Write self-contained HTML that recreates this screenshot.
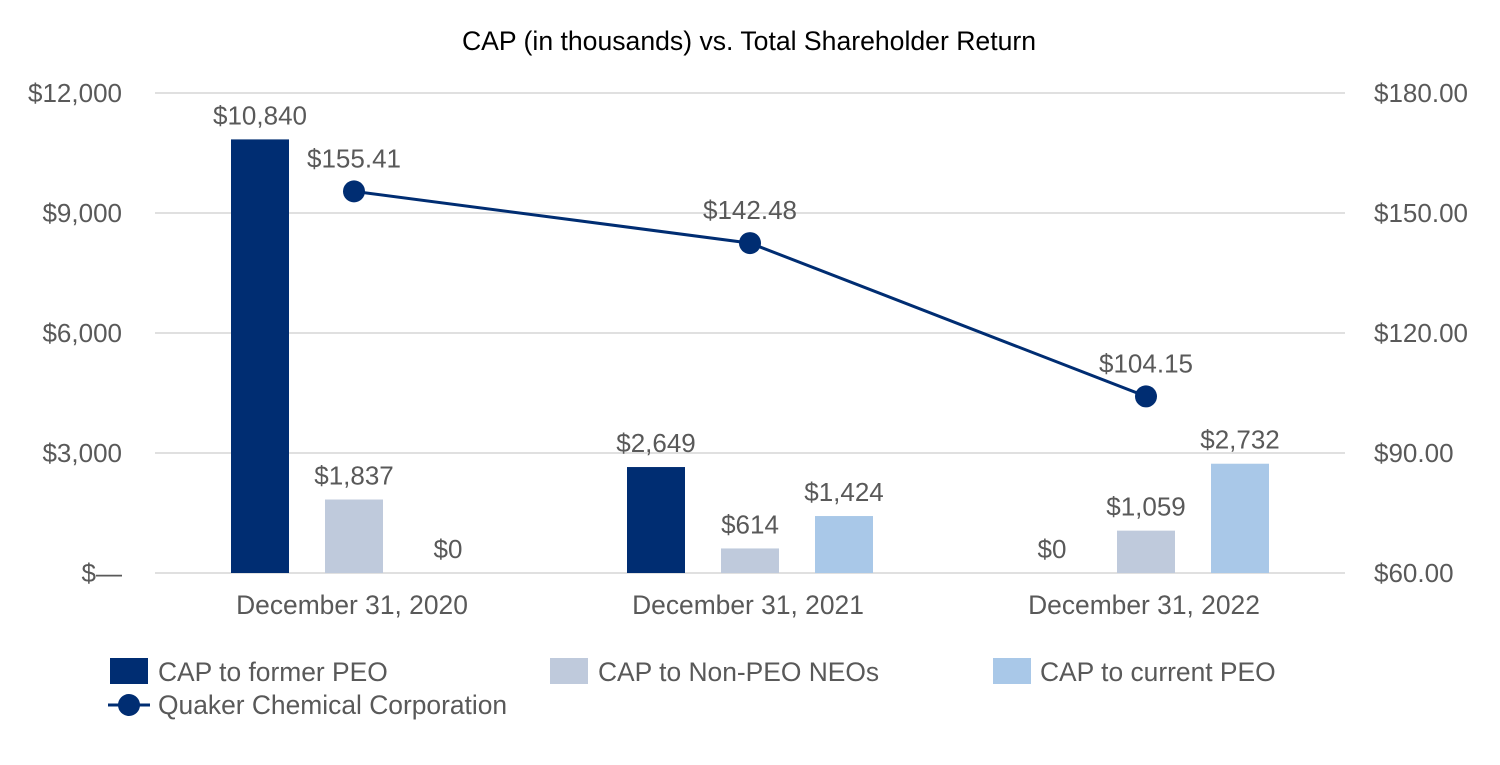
<!DOCTYPE html>
<html><head><meta charset="utf-8">
<style>
body{margin:0;background:#fff;}
svg text{font-family:"Liberation Sans",Arial,sans-serif;fill:#595959;}
</style></head>
<body>
<svg id="chart" width="1500" height="760" xmlns="http://www.w3.org/2000/svg">
<rect width="1500" height="760" fill="#fff"/>
<text x="749" y="50" text-anchor="middle" font-size="26.6" style="fill:#000">CAP (in thousands) vs. Total Shareholder Return</text>
<g id="grid"></g><g id="bars"></g><g id="line"></g><g id="axes"></g>
<g font-size="26.4">
 <rect x="110" y="658" width="38" height="26" fill="#002D72"/>
 <text x="158" y="681">CAP to former PEO</text>
 <rect x="550" y="658" width="38" height="26" fill="#BFCADC"/>
 <text x="598" y="681">CAP to Non-PEO NEOs</text>
 <rect x="993" y="658" width="38" height="26" fill="#A9C8E8"/>
 <text x="1040" y="681">CAP to current PEO</text>
 <line x1="108" y1="705" x2="150" y2="705" stroke="#002D72" stroke-width="3"/>
 <circle cx="129" cy="705" r="11" fill="#002D72"/>
 <text x="158" y="714">Quaker Chemical Corporation</text>
</g>
</svg>
<script>
const categories=["December 31, 2020","December 31, 2021","December 31, 2022"];
const formerPEO=[10840,2649,0];
const nonPEO=[1837,614,1059];
const currentPEO=[0,1424,2732];
const tsr=[155.41,142.48,104.15];
const leftTicks=[0,3000,6000,9000,12000];
const leftTickLabels=["$—","$3,000","$6,000","$9,000","$12,000"];
const rightTicks=[60,90,120,150,180];
const rightTickLabels=["$60.00","$90.00","$120.00","$150.00","$180.00"];

const NS="http://www.w3.org/2000/svg";
const yL=v=>573-v*(480/12000);
const yR=v=>573-(v-60)*4;
const xC=i=>354+i*396;
function mk(p,tag,a,txt){const e=document.createElementNS(NS,tag);for(const k in a)e.setAttribute(k,a[k]);if(txt!==undefined)e.textContent=txt;document.getElementById(p).appendChild(e);return e;}
const fmt=v=>"$"+v.toLocaleString("en-US");

leftTicks.forEach((t,i)=>{
 const g=mk("grid","line",{x1:155,x2:1345,y1:yL(t),y2:yL(t),stroke:"#E0E0E0","stroke-width":2});
 
 
 const l=mk("axes","text",{x:122,y:yL(t)+9,"text-anchor":"end","font-size":26},leftTickLabels[i]);
 
 
});
rightTicks.forEach((t,i)=>{
 const l=mk("axes","text",{x:1374,y:yR(t)+9,"font-size":26},rightTickLabels[i]);
 
 
});
categories.forEach((c,i)=>{
 const l=mk("axes","text",{x:xC(i)-2,y:614,"text-anchor":"middle","font-size":26.4},c);
 
 
});
const series=[[formerPEO,"#002D72",-94,"former-peo"],[nonPEO,"#BFCADC",0,"non-peo"],[currentPEO,"#A9C8E8",94,"current-peo"]];
series.forEach(([vals,col,off,nm])=>{
 vals.forEach((v,i)=>{
  const cx=xC(i)+off,y=yL(v);
  const r=mk("bars","rect",{x:cx-29,y:y,width:58,height:573-y,fill:col});
  
  
  const t=mk("bars","text",{x:cx,y:y-15,"text-anchor":"middle","font-size":26},fmt(v));
  
  
 });
});
const pts=tsr.map((v,i)=>xC(i)+","+yR(v)).join(" ");
const pl=mk("line","polyline",{points:pts,fill:"none",stroke:"#002D72","stroke-width":3});


tsr.forEach((v,i)=>{
 const c=mk("line","circle",{cx:xC(i),cy:yR(v),r:11,fill:"#002D72"});
 
 
 const t=mk("line","text",{x:xC(i),y:yR(v)-24,"text-anchor":"middle","font-size":26},"$"+v.toFixed(2));
 
 
});
</script>
</body></html>
